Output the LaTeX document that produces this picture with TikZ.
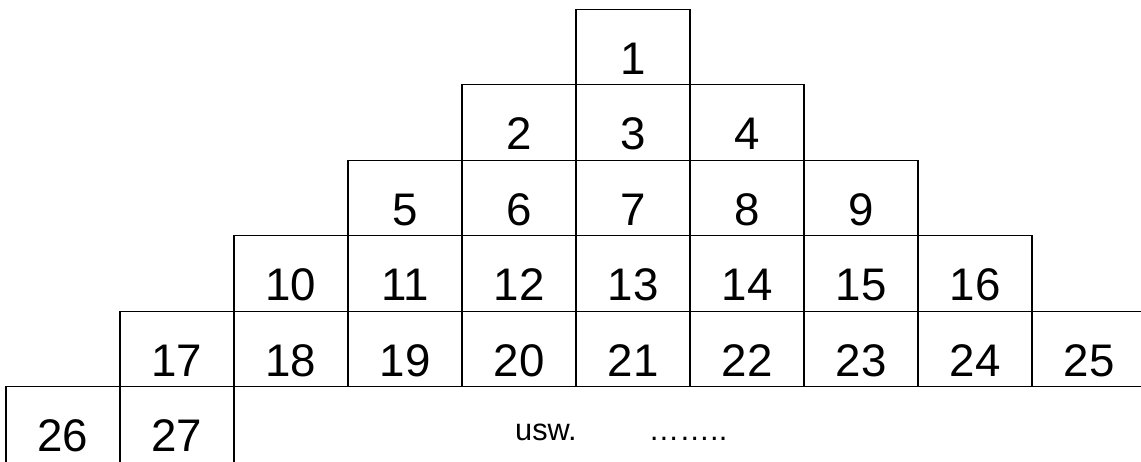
\documentclass[tikz,border=0pt]{standalone}
\usepackage{fontspec}
\setmainfont{Liberation Sans}
\tikzset{
  cell/.style={draw, line width=0.7pt, minimum width=2.28cm, minimum height=1.51cm,
    inner sep=0pt, text height=1.08cm, text depth=0pt, font=\fontsize{26}{26}\selectfont},
  note/.style={anchor=base, inner sep=0pt, font=\fontsize{17.5}{17.5}\selectfont}
}
\begin{document}
\begin{tikzpicture}[x=0.02cm, y=0.02cm]
  \useasboundingbox (0,0) rectangle (1141,462);
  \clip (0,0.8) rectangle (1141,462);
  % pyramid rows 1 to 5
  \foreach \r in {1,...,5} {
    \pgfmathtruncatemacro{\nbox}{2*\r-1}
    \foreach \c in {1,...,\nbox} {
      \pgfmathtruncatemacro{\cnum}{(\r-1)*(\r-1)+\c}
      \node[cell] (c\cnum) at ({576-114*(\r-1)+114*(\c-1)+57}, {462-9.3-75.5*(\r-1)-37.75}) {\cnum};
    }
  }
  % last row, cut off at the bottom
  \node[cell] (c26) at (63, {462-386.8-37.75}) {26};
  \node[cell] (c27) at (177, {462-386.8-37.75}) {27};
  \node[note] (usw) at (546,21) {usw.};
  \node[note] (dots) at (688,21) {……..};
\end{tikzpicture}
\end{document}
